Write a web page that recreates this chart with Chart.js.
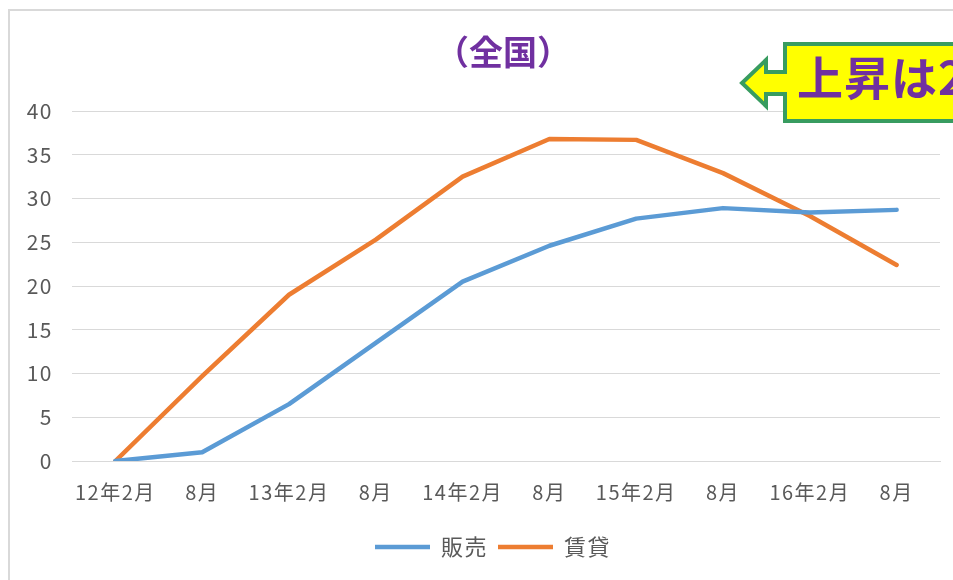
<!DOCTYPE html>
<html>
<head>
<meta charset="utf-8">
<script src="https://cdn.jsdelivr.net/npm/chart.js@4.4.0/dist/chart.umd.min.js"></script>
<style>
  html, body { margin: 0; padding: 0; background: #ffffff; overflow: hidden; }
  #wrap { position: relative; width: 953px; height: 580px; overflow: hidden; }
  #frame { position: absolute; left: 8px; top: 9px; width: 1000px; height: 1000px; border: 2px solid #d9d9d9; box-sizing: border-box; }
  canvas { position: absolute; left: 0; top: 0; }
  #title { position: absolute; left: 393px; width: 220px; top: 28px; text-align: center; font-family: "Noto Sans CJK JP", sans-serif; font-weight: bold; font-size: 34px; line-height: 46px; color: #7030a0; }
  #callout { position: absolute; left: 0; top: 0; }
  #calloutText { position: absolute; left: 797px; top: 44px; white-space: nowrap; font-family: "Noto Sans CJK JP", sans-serif; font-weight: bold; font-size: 46px; line-height: 62px; letter-spacing: 1px; color: #7030a0; }
</style>
</head>
<body>
<div id="wrap">
  <div id="frame"></div>
  <canvas id="c" width="953" height="580"></canvas>
  <div id="title">（全国）</div>
  <svg id="callout" width="953" height="580">
    <polygon points="1000,44 785,44 785,72 766,72 766,60 742,83 766,106 766,94 785,94 785,121 1000,121" fill="#ffff00" stroke="#389c60" stroke-width="4" stroke-linejoin="miter"/>
  </svg>
  <div id="calloutText">上昇は2</div>
</div>
<script>
const categories = ["12年2月", "8月", "13年2月", "8月", "14年2月", "8月", "15年2月", "8月", "16年2月", "8月"];
const hanbai = [0, 1.0, 6.5, 13.5, 20.5, 24.6, 27.7, 28.9, 28.4, 28.7];
const chintai = [0, 9.7, 19.0, 25.3, 32.5, 36.8, 36.7, 32.9, 28.0, 22.4];
const seriesNames = ["販売", "賃貸"];
const yTicks = [0, 5, 10, 15, 20, 25, 30, 35, 40];

const fontFamily = '"Noto Sans CJK JP", "Noto Sans", sans-serif';

const spacingPlugin = {
  id: 'spacing',
  beforeInit(chart) { chart.ctx.letterSpacing = '1.5px'; },
  beforeUpdate(chart) { chart.ctx.letterSpacing = '1.5px'; },
  beforeDraw(chart) { chart.ctx.letterSpacing = '1.5px'; },
  afterLayout(chart) {
    if (chart.legend) { chart.legend.left += 14; chart.legend.right += 14; }
  }
};

new Chart(document.getElementById('c'), {
  type: 'line',
  plugins: [spacingPlugin],
  data: {
    labels: categories,
    datasets: [
      { label: seriesNames[0], data: hanbai, borderColor: '#5b9bd5', backgroundColor: '#5b9bd5', borderWidth: 4.5, pointRadius: 0, tension: 0, borderCapStyle: 'round', borderJoinStyle: 'round', pointStyle: 'line' },
      { label: seriesNames[1], data: chintai, borderColor: '#ed7d31', backgroundColor: '#ed7d31', borderWidth: 4.5, pointRadius: 0, tension: 0, borderCapStyle: 'round', borderJoinStyle: 'round', pointStyle: 'line' }
    ]
  },
  options: {
    responsive: false,
    animation: false,
    layout: { padding: { left: 18, right: 13, top: 111, bottom: 12 } },
    plugins: {
      title: { display: false },
      tooltip: { enabled: false },
      legend: {
        position: 'bottom',
        labels: {
          usePointStyle: true,
          pointStyleWidth: 55,
          boxHeight: 22,
          padding: 10,
          color: '#595959',
          font: { family: fontFamily, size: 22 }
        }
      }
    },
    scales: {
      x: {
        offset: true,
        grid: { display: false, drawTicks: false },
        border: { display: true, color: '#d9d9d9', width: 1 },
        ticks: { color: '#595959', padding: 19, maxRotation: 0, autoSkip: false, font: { family: fontFamily, size: 20 } },
        afterFit: s => { s.height = 65; }
      },
      y: {
        min: 0, max: 40,
        afterBuildTicks: s => { s.ticks = yTicks.map(v => ({ value: v })); },
        grid: { color: '#d9d9d9', lineWidth: 1, drawTicks: false },
        border: { display: false },
        ticks: { color: '#595959', padding: 19, font: { family: fontFamily, size: 21 } },
        afterFit: s => { s.width = 54; }
      }
    }
  }
});
</script>
</body>
</html>
